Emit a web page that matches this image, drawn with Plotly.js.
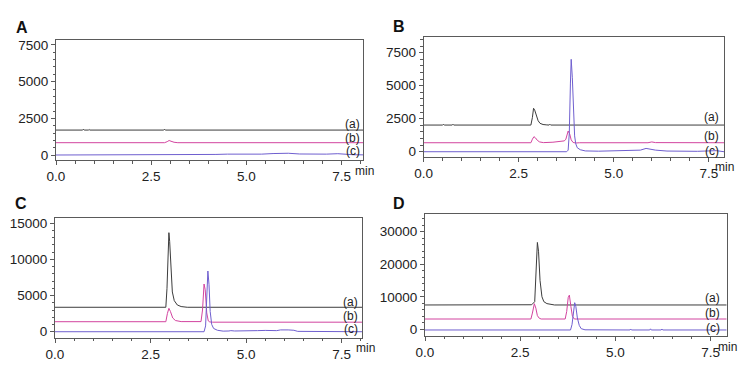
<!DOCTYPE html>
<html><head><meta charset="utf-8">
<script src="https://cdn.plot.ly/plotly-3.0.1.min.js"></script>
<style>html,body{margin:0;padding:0;background:#fff}#chart{width:752px;height:371px}</style>
</head><body><div id="chart"></div>
<script>
// ---- Data (time in min, intensity) ----
// Panel A
const A_a_t = [0,0.7,0.72,0.74,0.85,0.87,0.89,1.1,1.12,1.14,2.83,2.85,2.87,8.07];
const A_a_y = [1700,1700,1760,1700,1700,1740,1700,1700,1740,1700,1700,1760,1700,1700];
const A_b_t = [0,2.85,2.92,2.97,3.02,3.1,3.2,5.6,5.7,5.8,5.9,6.0,6.1,6.2,8.07];
const A_b_y = [840,840,910,990,940,870,840,840,880,860,880,860,870,840,840];
const A_c_t = [0,4.0,4.2,4.5,4.8,5.1,5.4,5.7,5.9,6.1,6.4,6.8,7.1,7.4,7.6,7.8,8.07];
const A_c_y = [0,0,40,60,50,90,60,100,130,120,70,40,60,90,40,20,10];
// Panel B
const B_a_t = [0,0.5,0.52,0.54,0.75,0.77,0.79,0.95,0.97,0.99,2.82,2.86,2.89,2.92,2.96,3.01,3.06,3.14,3.24,3.3,3.32,3.34,7.9];
const B_a_y = [2020,2020,2080,2020,2020,2080,2020,2020,2060,2020,2020,2600,3290,3150,2700,2350,2150,2060,2030,2020,2080,2020,2020];
const B_b_t = [0,2.82,2.86,2.9,2.94,2.99,3.05,3.15,3.4,3.6,3.7,3.74,3.77,3.8,3.84,3.88,3.93,4.0,4.1,5.9,6.0,6.1,7.9];
const B_b_y = [680,680,950,1140,1050,860,740,690,720,780,820,950,1250,1570,1350,900,700,660,680,680,740,690,680];
const B_c_t = [0,3.76,3.8,3.83,3.86,3.88,3.91,3.94,3.97,4.0,4.04,4.12,4.25,4.6,5.0,5.4,5.7,5.85,5.95,6.1,6.4,6.8,7.2,7.5,7.7,7.9];
const B_c_y = [0,0,120,1400,5200,7000,5600,2800,1200,600,300,150,60,40,60,50,120,250,200,120,50,20,30,60,80,0];
// Panel C
const C_a_t = [0,0.7,0.72,0.74,2.9,2.93,2.96,2.98,3.0,3.03,3.07,3.12,3.2,3.3,3.42,3.44,3.46,8.04];
const C_a_y = [3380,3380,3440,3380,3380,6000,12000,13700,12500,8500,5500,4300,3700,3480,3400,3460,3380,3380];
const C_b_t = [0,2.9,2.94,2.98,3.02,3.08,3.15,3.3,3.82,3.86,3.9,3.93,3.97,4.01,4.05,4.12,8.04];
const C_b_y = [1385,1385,2500,3240,2800,1900,1550,1400,1400,3000,6600,5800,2600,1500,1350,1320,1320];
const C_c_t = [0,3.9,3.94,3.97,4.0,4.03,4.06,4.1,4.15,4.25,4.4,4.55,4.6,4.7,4.9,5.1,5.2,5.3,5.5,5.8,5.9,6.0,6.1,6.25,6.35,8.04];
const C_c_y = [0,0,800,4500,8400,6500,2800,1000,450,200,80,100,150,100,150,100,180,150,180,150,250,280,250,200,50,0];
// Panel D
const D_a_t = [0,2.25,2.27,2.29,2.6,2.7,2.8,2.88,2.92,2.95,2.98,3.02,3.07,3.12,3.2,3.3,3.4,7.92];
const D_a_y = [7480,7480,7600,7480,7480,7700,7550,8500,18000,26700,24000,15000,10000,8500,7900,7600,7480,7480];
const D_b_t = [0,2.78,2.82,2.87,2.91,2.95,3.0,3.05,3.68,3.72,3.76,3.79,3.83,3.87,3.92,7.92];
const D_b_y = [3170,3170,5000,7870,6500,4200,3400,3170,3170,5500,9800,10500,7000,4000,3170,3170];
const D_c_t = [0,3.82,3.86,3.9,3.93,3.96,4.0,4.05,4.1,4.2,5.38,5.4,5.42,5.9,5.92,5.94,6.2,6.22,6.24,7.92];
const D_c_y = [-200,-200,1500,5500,8180,7000,3500,1200,200,-150,-200,100,-200,-200,150,-200,-200,100,-200,-200];

const traceLabels = ['(a)','(b)','(c)'];
const panelLetters = ['A','B','C','D'];
const xTickVals = [0,2.5,5,7.5];
const xTickText = ['0.0','2.5','5.0','7.5'];

// ---- Styling ----
const colors = ['#3c3c3c','#d2449f','#6f5fcf'];
const W = 752, H = 371;
const px = v => v / W;
const py = v => 1 - v / H;

const panels = [
  {t:[A_a_t,A_b_t,A_c_t], y:[A_a_y,A_b_y,A_c_y], xb:[56,363.3], yb:[40,160], xr:[0,8.07], yr:[-340,7840], dt:2500, mdt:500,
   lbl:{x:21.7,y:27.2}, tr:{x:362,ys:[124,137.5,151.5]}, mn:{x:364.5,y:171}},
  {t:[B_a_t,B_b_t,B_c_t], y:[B_a_y,B_b_y,B_c_y], xb:[423.7,724], yb:[37,157], xr:[0,7.9], yr:[-400,8690], dt:2500, mdt:500,
   lbl:{x:398.5,y:26.7}, tr:{x:721,ys:[117,136,151]}, mn:{x:724,y:167}},
  {t:[C_a_t,C_b_t,C_c_t], y:[C_a_y,C_b_y,C_c_y], xb:[55,362.3], yb:[218.3,337.5], xr:[0,8.04], yr:[-800,15690], dt:5000, mdt:1000,
   lbl:{x:21.3,y:203.7}, tr:{x:360,ys:[301.5,315.5,328.5]}, mn:{x:365.5,y:347.7}},
  {t:[D_a_t,D_b_t,D_c_t], y:[D_a_y,D_b_y,D_c_y], xb:[425,726.7], yb:[214,335.5], xr:[0,7.92], yr:[-1900,35440], dt:10000, mdt:2000,
   lbl:{x:398.5,y:203.3}, tr:{x:722,ys:[297.7,312.7,328.3]}, mn:{x:727,y:346.7}}
];

const font = 'Liberation Sans, Arial, sans-serif';
const data = [];
const layout = {
  width: W, height: H, margin:{l:0,r:0,t:0,b:0},
  paper_bgcolor:'#fff', plot_bgcolor:'#fff', showlegend:false,
  font:{family:font, size:13, color:'#222'}, annotations:[]
};

panels.forEach((p,i) => {
  const n = i === 0 ? '' : String(i+1);
  for (let k = 0; k < 3; k++) {
    data.push({x:p.t[k], y:p.y[k], xaxis:'x'+n, yaxis:'y'+n, type:'scatter', mode:'lines',
      line:{color:colors[k], width:1}, hoverinfo:'skip'});
  }
  const axBase = {showline:true, mirror:true, linecolor:'#5a5a5a', linewidth:1, showgrid:false, zeroline:false,
    ticks:'outside', ticklen:4, tickcolor:'#5a5a5a', tickwidth:1,
    tickfont:{family:font, size:13.5, color:'#222'}, fixedrange:true};
  layout['xaxis'+n] = Object.assign({}, axBase, {
    domain:[px(p.xb[0]), px(p.xb[1])], range:p.xr, anchor:'y'+n,
    tickmode:'array', tickvals:xTickVals, ticktext:xTickText,
    minor:{ticks:'outside', ticklen:2.5, tickcolor:'#5a5a5a', dtick:0.5, tick0:0}
  });
  layout['yaxis'+n] = Object.assign({}, axBase, {
    domain:[py(p.yb[1]), py(p.yb[0])], range:p.yr, anchor:'x'+n,
    tickmode:'linear', tick0:0, dtick:p.dt, tickformat:'d',
    minor:{ticks:'outside', ticklen:2.5, tickcolor:'#5a5a5a', dtick:p.mdt, tick0:0}
  });
  layout.annotations.push({text:'<b>'+panelLetters[i]+'</b>', xref:'paper', yref:'paper',
    x:px(p.lbl.x), y:py(p.lbl.y), xanchor:'center', yanchor:'middle', showarrow:false,
    font:{family:font, size:16, color:'#111'}});
  p.tr.ys.forEach((yy,k) => layout.annotations.push({text:traceLabels[k], xref:'paper', yref:'paper',
    x:px(p.tr.x), y:py(yy), xanchor:'right', yanchor:'middle', showarrow:false,
    font:{family:font, size:12, color:'#222'}}));
  layout.annotations.push({text:'min', xref:'paper', yref:'paper', x:px(p.mn.x), y:py(p.mn.y),
    xanchor:'center', yanchor:'middle', showarrow:false, font:{family:font, size:12, color:'#222'}});
});

Plotly.newPlot('chart', data, layout, {displayModeBar:false, staticPlot:true});
</script></body></html>
